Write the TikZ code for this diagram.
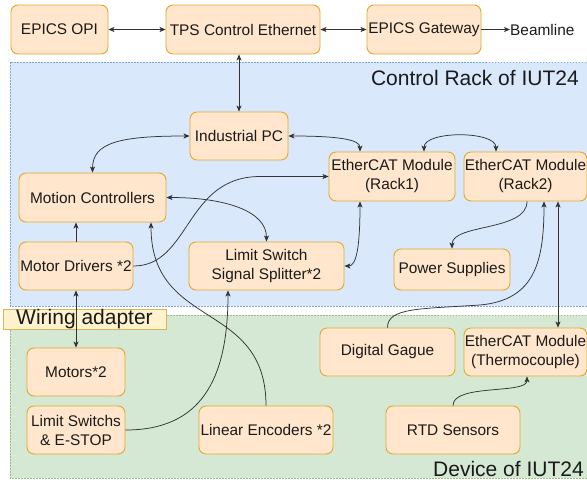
\documentclass[tikz,border=0pt]{standalone}
\usepackage{fontspec}
\setmainfont{Liberation Sans}
\usetikzlibrary{arrows.meta,calc}
\definecolor{boxfill}{HTML}{FFE6CC}
\definecolor{boxline}{HTML}{E0A92E}
\definecolor{bluefill}{HTML}{DAE8FC}
\definecolor{blueline}{HTML}{7EA6E0}
\definecolor{greenfill}{HTML}{D5E8D4}
\definecolor{greenline}{HTML}{97C27E}
\definecolor{wafill}{HTML}{FFF2CC}
\definecolor{waline}{HTML}{D6B656}
\definecolor{lnc}{HTML}{333333}
\definecolor{txt}{HTML}{1A1A1A}
\begin{document}
\begin{tikzpicture}[x=1pt,y=-1pt,
  >={Stealth[length=6pt,width=5pt,inset=1.5pt]},
  box/.style={draw=boxline,fill=boxfill,rounded corners=7pt,line width=0.9pt,
    align=center,font=\fontsize{15.4}{19}\selectfont,text=txt,inner sep=0pt},
  region/.style={line width=0.7pt,dash pattern=on 1.5pt off 1.5pt},
  rlabel/.style={font=\fontsize{21}{24}\selectfont,text=txt,inner sep=0pt},
  conn/.style={draw=lnc,line width=0.75pt}]
\useasboundingbox (0,0) rectangle (587,483);
\clip (0,0) rectangle (587,483);
% regions
\path[region,draw=blueline,fill=bluefill] (10,62) rectangle (600,306);
\path[region,draw=greenline,fill=greenfill] (10,315) rectangle (600,478);
\node[rlabel,anchor=east] (lrack) at (579,78) {Control Rack of IUT24};
\node[rlabel,anchor=east] (ldev) at (584,469) {Device of IUT24};
\node[draw=waline,fill=wafill,line width=0.8pt,minimum width=163pt,minimum height=17pt,inner sep=0pt,
  font=\fontsize{21}{24}\selectfont,text=txt] (wa) at (84.5,319.5) {Wiring adapter};
% top row
\node[box,minimum width=97pt,minimum height=49pt] (opi) at (59.5,29.5) {EPICS OPI};
\node[box,minimum width=154pt,minimum height=49pt] (tps) at (243,29.5) {TPS Control Ethernet};
\node[box,minimum width=114pt,minimum height=49pt] (gw) at (424,29.5) {EPICS Gateway};
\node[font=\fontsize{15.4}{19}\selectfont,text=txt,inner sep=0pt,anchor=west] (beam) at (510,29.5) {Beamline};
% control rack
\node[box,minimum width=98pt,minimum height=48pt] (ipc) at (239,136) {Industrial PC};
\node[box,minimum width=147pt,minimum height=49pt] (mc) at (92.5,197.5) {Motion Controllers};
\node[box,minimum width=114pt,minimum height=48pt] (md) at (76,266) {Motor Drivers *2};
\node[box,minimum width=155pt,minimum height=48pt] (lss) at (266.5,266) {Limit Switch\\Signal Splitter*2};
\node[box,minimum width=126pt,minimum height=49pt] (r1) at (392,176.5) {EtherCAT Module\\(Rack1)};
\node[box,minimum width=123pt,minimum height=49pt] (r2) at (525.5,176.5) {EtherCAT Module\\(Rack2)};
\node[box,minimum width=116pt,minimum height=41pt] (ps) at (452,269.5) {Power Supplies};
% device
\node[box,minimum width=98pt,minimum height=48pt] (mot) at (76,372) {Motors*2};
\node[box,minimum width=98pt,minimum height=48pt] (lsw) at (76,430) {Limit Switchs\\\& E-STOP};
\node[box,minimum width=134pt,minimum height=48pt] (enc) at (266,430) {Linear Encoders *2};
\node[box,minimum width=135pt,minimum height=48pt] (dg) at (387.5,352) {Digital Gague};
\node[box,minimum width=123pt,minimum height=48pt] (tc) at (525.5,352) {EtherCAT Module\\(Thermocouple)};
\node[box,minimum width=134pt,minimum height=48pt] (rtd) at (453,430) {RTD Sensors};
% connectors
\draw[conn,<->] (opi.east) -- (tps.west);
\draw[conn,<->] (tps.east) -- (gw.west);
\draw[conn,->] (gw.east) -- (beam.west);
\draw[conn,<->] (ipc.north |- tps.south) -- (ipc.north);
\draw[conn,<->] (ipc.west) .. controls +(-70,0) and +(0,-30) .. (mc.north);
\draw[conn,<->] (ipc.east) .. controls +(50,0) and +(0,-12) .. ([xshift=-32pt]r1.north);
\draw[conn,<->] ([xshift=32pt]r1.north) .. controls +(0,-21) and +(0,-21) .. ([xshift=-29.5pt]r2.north);
\draw[conn,->] (md.east) .. controls +(57,0) and +(-75,0) .. (260,176.5) -- (r1.west);
\draw[conn,<->] (mc.east) .. controls +(60,0) and +(0,-30) .. (lss.north);
\draw[conn,<->] ([xshift=-32pt]r1.south) .. controls +(0,45) and +(12,0) .. (lss.east);
\draw[conn,->] ([xshift=1.5pt]r2.south) .. controls +(0,30) and +(0,-25) .. (ps.north);
\draw[conn,->] (dg.north) .. controls +(0,-20) and +(-60,4) .. (480,305) .. controls +(55,-5) and +(0,60) .. ([xshift=18.5pt]r2.south);
\draw[conn,<->] ([xshift=32.5pt]r2.south) -- ([xshift=32.5pt]tc.north);
\draw[conn,->] (rtd.north) .. controls +(0,-22) and +(0,18) .. ([xshift=1.5pt]tc.south);
\draw[conn,->] (enc.north) .. controls +(0,-106) and +(0,108) .. ([xshift=58.5pt]mc.south);
\draw[conn,->] (md.north) -- (md.north |- mc.south);
\draw[conn,<->] (md.south) -- (mot.north);
\draw[conn,->] (lsw.east) .. controls +(75,0) and +(0,90) .. ([xshift=-38.5pt]lss.south);
\end{tikzpicture}
\end{document}
